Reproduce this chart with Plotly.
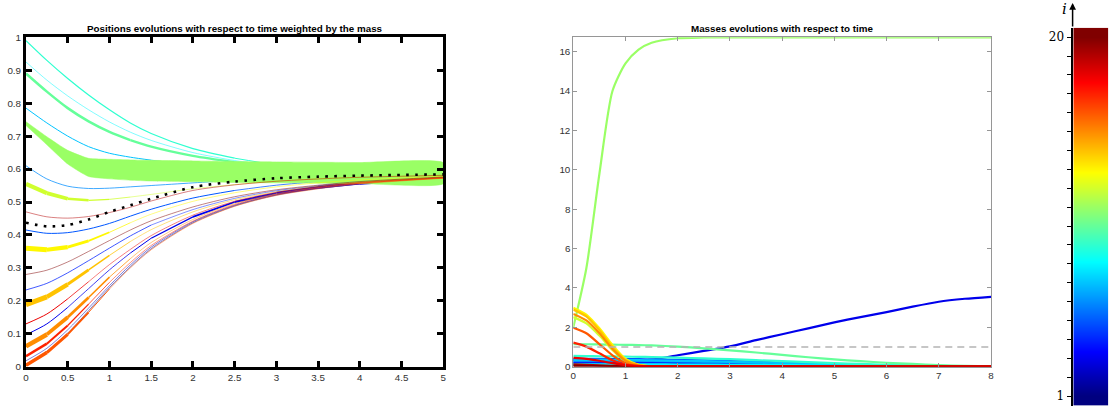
import plotly.graph_objects as go

W, H = 1110, 407

# ---------------- data ----------------
T_POS = [0, 0.25, 0.5, 0.75, 1, 1.25, 1.5, 2, 2.5, 3, 3.5, 4, 5]
T_MASS = [0, 0.25, 0.5, 0.75, 1, 1.25, 1.5, 2, 2.5, 3, 3.5, 4, 4.5, 5, 5.5, 6, 6.5, 7, 7.5, 8]
PARTICLE_IDX = list(range(1, 21))

pos_i1 = [0.008, 0.047, 0.102, 0.17, 0.24, 0.303, 0.358, 0.437, 0.488, 0.521, 0.541, 0.555, 0.572]
pos_i2 = [0.018, 0.056, 0.112, 0.178, 0.246, 0.309, 0.363, 0.44, 0.49, 0.522, 0.542, 0.556, 0.572]
pos_i3 = [0.097, 0.13, 0.18, 0.237, 0.294, 0.345, 0.39, 0.455, 0.5, 0.527, 0.545, 0.558, 0.574]
pos_i4 = [0.233, 0.253, 0.285, 0.322, 0.36, 0.397, 0.43, 0.477, 0.511, 0.534, 0.549, 0.561, 0.575]
pos_i5 = [0.415, 0.405, 0.407, 0.418, 0.435, 0.457, 0.478, 0.512, 0.535, 0.551, 0.562, 0.57, 0.579]
pos_i6 = [0.61, 0.57, 0.548, 0.541, 0.542, 0.546, 0.55, 0.558, 0.566, 0.572, 0.577, 0.58, 0.584]
pos_i7 = [0.785, 0.74, 0.7, 0.668, 0.648, 0.636, 0.627, 0.612, 0.603, 0.597, 0.593, 0.59, 0.587]
pos_i8 = [0.925, 0.87, 0.822, 0.78, 0.743, 0.712, 0.687, 0.65, 0.626, 0.609, 0.599, 0.592, 0.587]
pos_i9 = [0.99, 0.93, 0.875, 0.825, 0.78, 0.74, 0.708, 0.662, 0.633, 0.613, 0.601, 0.593, 0.587]
pos_i10 = [0.89, 0.835, 0.785, 0.745, 0.713, 0.688, 0.668, 0.64, 0.621, 0.607, 0.598, 0.592, 0.587]
pos_i11 = [0.738, 0.686, 0.636, 0.605, 0.6, 0.597, 0.595, 0.593, 0.591, 0.59, 0.589, 0.588, 0.5875]
pos_i12 = [0.555, 0.527, 0.51, 0.505, 0.508, 0.515, 0.523, 0.54, 0.553, 0.563, 0.57, 0.575, 0.581]
pos_i13 = [0.36, 0.355, 0.363, 0.382, 0.408, 0.437, 0.463, 0.502, 0.528, 0.546, 0.558, 0.567, 0.578]
pos_i14 = [0.188, 0.212, 0.25, 0.294, 0.338, 0.38, 0.416, 0.47, 0.507, 0.531, 0.548, 0.56, 0.575]
pos_i15 = [0.062, 0.098, 0.15, 0.21, 0.272, 0.328, 0.377, 0.447, 0.495, 0.525, 0.544, 0.557, 0.573]
pos_i16 = [0.004, 0.043, 0.098, 0.165, 0.236, 0.3, 0.355, 0.435, 0.487, 0.52, 0.54, 0.555, 0.572]
pos_i17 = [0.032, 0.07, 0.125, 0.19, 0.256, 0.316, 0.368, 0.442, 0.492, 0.523, 0.543, 0.557, 0.573]
pos_i18 = [0.13, 0.16, 0.206, 0.258, 0.31, 0.356, 0.398, 0.46, 0.502, 0.529, 0.546, 0.559, 0.574]
pos_i19 = [0.47, 0.455, 0.451, 0.456, 0.468, 0.484, 0.503, 0.535, 0.552, 0.563, 0.57, 0.575, 0.581]
pos_i20 = [0.28, 0.293, 0.318, 0.35, 0.383, 0.415, 0.443, 0.485, 0.516, 0.537, 0.551, 0.562, 0.576]
pos_mean = [0.437, 0.426, 0.43, 0.447, 0.47, 0.49, 0.51, 0.545, 0.562, 0.572, 0.577, 0.58, 0.584]

mass_i1 = [0.1, 0.1, 0.1, 0.1, 0.1, 0.1, 0.1, 0.09, 0.08, 0.07, 0.06, 0.05, 0.04, 0.03, 0.02, 0.015, 0.01, 0.006, 0.004, 0.002]
mass_i2 = [0.2, 0.2, 0.2, 0.2, 0.2, 0.2, 0.2, 0.19, 0.18, 0.16, 0.14, 0.12, 0.1, 0.08, 0.06, 0.04, 0.03, 0.02, 0.01, 0.005]
mass_i3 = [0.35, 0.34, 0.32, 0.3, 0.29, 0.3, 0.36, 0.58, 0.8, 1.03, 1.35, 1.65, 1.95, 2.25, 2.52, 2.77, 3.05, 3.3, 3.45, 3.55]
mass_i4 = [0.22, 0.22, 0.22, 0.22, 0.22, 0.22, 0.21, 0.2, 0.19, 0.17, 0.15, 0.12, 0.1, 0.08, 0.06, 0.04, 0.03, 0.02, 0.01, 0.005]
mass_i5 = [0.4, 0.4, 0.4, 0.39, 0.39, 0.38, 0.37, 0.35, 0.32, 0.29, 0.25, 0.21, 0.17, 0.13, 0.1, 0.07, 0.05, 0.03, 0.02, 0.01]
mass_i6 = [0.3, 0.3, 0.3, 0.3, 0.3, 0.29, 0.29, 0.27, 0.25, 0.23, 0.2, 0.17, 0.14, 0.11, 0.08, 0.06, 0.04, 0.02, 0.01, 0.005]
mass_i7 = [0.35, 0.35, 0.35, 0.34, 0.34, 0.33, 0.32, 0.3, 0.28, 0.25, 0.22, 0.18, 0.15, 0.12, 0.09, 0.07, 0.05, 0.03, 0.02, 0.01]
mass_i8 = [0.12, 0.12, 0.12, 0.12, 0.12, 0.12, 0.12, 0.11, 0.11, 0.1, 0.09, 0.08, 0.07, 0.06, 0.05, 0.04, 0.03, 0.02, 0.01, 0.01]
mass_i9 = [0.55, 0.54, 0.53, 0.52, 0.51, 0.5, 0.49, 0.46, 0.42, 0.38, 0.33, 0.28, 0.23, 0.18, 0.14, 0.1, 0.07, 0.04, 0.02, 0.01]
mass_i10 = [1.15, 1.14, 1.13, 1.12, 1.11, 1.1, 1.08, 1.02, 0.93, 0.83, 0.72, 0.6, 0.48, 0.37, 0.28, 0.2, 0.14, 0.08, 0.04, 0.02]
mass_i11 = [2.0, 5.0, 9.8, 14.0, 15.4, 16.1, 16.45, 16.68, 16.72, 16.73, 16.73, 16.73, 16.73, 16.73, 16.73, 16.73, 16.73, 16.73, 16.73, 16.73]
mass_i12 = [2.52, 2.2, 1.58, 0.85, 0.28, 0.06, 0.01, 0, 0, 0, 0, 0, 0, 0, 0, 0, 0, 0, 0, 0]
mass_i13 = [3.0, 2.65, 1.95, 1.1, 0.4, 0.1, 0.02, 0, 0, 0, 0, 0, 0, 0, 0, 0, 0, 0, 0, 0]
mass_i14 = [2.9, 2.55, 1.85, 1.0, 0.35, 0.08, 0.02, 0, 0, 0, 0, 0, 0, 0, 0, 0, 0, 0, 0, 0]
mass_i15 = [2.68, 2.35, 1.7, 0.9, 0.3, 0.07, 0.01, 0, 0, 0, 0, 0, 0, 0, 0, 0, 0, 0, 0, 0]
mass_i16 = [1.98, 1.7, 1.15, 0.58, 0.18, 0.04, 0.01, 0, 0, 0, 0, 0, 0, 0, 0, 0, 0, 0, 0, 0]
mass_i17 = [1.22, 1.02, 0.68, 0.33, 0.1, 0.02, 0, 0, 0, 0, 0, 0, 0, 0, 0, 0, 0, 0, 0, 0]
mass_i18 = [0.45, 0.4, 0.3, 0.18, 0.08, 0.03, 0.01, 0, 0, 0, 0, 0, 0, 0, 0, 0, 0, 0, 0, 0]
mass_i19 = [0.12, 0.1, 0.07, 0.04, 0.02, 0.01, 0, 0, 0, 0, 0, 0, 0, 0, 0, 0, 0, 0, 0, 0]
mass_i20 = [0.04, 0.035, 0.025, 0.015, 0.008, 0.004, 0.002, 0, 0, 0, 0, 0, 0, 0, 0, 0, 0, 0, 0, 0]
MEAN_MASS = 1.0

TITLE_LEFT = "Positions evolutions with respect to time weighted by the mass"
TITLE_RIGHT = "Masses evolutions with respect to time"
CBAR_LABEL = "i"

POS = {i: globals()["pos_i%d" % i] for i in PARTICLE_IDX}
MASS = {i: globals()["mass_i%d" % i] for i in PARTICLE_IDX}

# ---------------- style helpers ----------------
def jet(c):
    x = (c - 1) / 19.0
    cl = lambda v: max(0.0, min(1.0, v))
    r = cl(min(4 * x - 1.5, -4 * x + 4.5))
    g = cl(min(4 * x - 0.5, -4 * x + 3.5))
    b = cl(min(4 * x + 0.5, -4 * x + 2.5))
    return "rgb(%d,%d,%d)" % (round(r * 255), round(g * 255), round(b * 255))

JET_SCALE = [[0, "rgb(0,0,128)"], [0.125, "rgb(0,0,255)"], [0.375, "rgb(0,255,255)"],
             [0.625, "rgb(255,255,0)"], [0.875, "rgb(255,0,0)"], [1, "rgb(128,0,0)"]]

def width_px(m):
    return max(0.55, 2.2 * m ** 0.8)

FONT = "Liberation Sans, Arial, sans-serif"
SERIF = "DejaVu Serif, Liberation Serif, serif"

# layout geometry (pixels)
L_X0, L_X1 = 26, 443.3
R_X0, R_X1 = 573.3, 991
P_YTOP, P_YBOT = 37.3, 366.7
C_X0, C_X1 = 1073.3, 1108.3
C_YTOP, C_YBOT = 27.7, 405.5
Y_RANGE_R = 16.73

px_per_unit_left = (P_YBOT - P_YTOP) / 1.0

fig = go.Figure()

# ---------------- left panel ----------------
for c in PARTICLE_IDX:
    ys = POS[c]
    ms = [MASS[c][T_MASS.index(t)] for t in T_POS]
    ws = [width_px(m) for m in ms]
    col = jet(c)
    if c == 11:
        hw = [w / 2.0 / px_per_unit_left for w in ws]
        up = [y + h for y, h in zip(ys, hw)]
        lo = [y - h for y, h in zip(ys, hw)]
        fig.add_trace(go.Scatter(x=T_POS + T_POS[::-1], y=up + lo[::-1], mode="lines",
                                 fill="toself", fillcolor=col,
                                 line=dict(color=col, width=0.5, shape="spline", smoothing=0.5),
                                 xaxis="x", yaxis="y", hoverinfo="skip", showlegend=False))
        continue
    seg_w = [round((ws[k] + ws[k + 1]) / 2 * 4) / 4 for k in range(len(ws) - 1)]
    start = 0
    for k in range(1, len(seg_w) + 1):
        if k == len(seg_w) or seg_w[k] != seg_w[start]:
            fig.add_trace(go.Scatter(x=T_POS[start:k + 1], y=ys[start:k + 1], mode="lines",
                                     line=dict(color=col, width=seg_w[start], shape="spline", smoothing=0.8),
                                     xaxis="x", yaxis="y", hoverinfo="skip", showlegend=False))
            start = k

fig.add_trace(go.Scatter(x=T_POS, y=pos_mean, mode="lines",
                         line=dict(color="black", width=2.6, dash="2.6px,6.4px", shape="spline", smoothing=0.8),
                         xaxis="x", yaxis="y", hoverinfo="skip", showlegend=False))

# ---------------- right panel ----------------
RIGHT_ORDER = [c for c in PARTICLE_IDX if c != 18] + [18]
for c in RIGHT_ORDER:
    fig.add_trace(go.Scatter(x=T_MASS, y=MASS[c], mode="lines",
                             line=dict(color=jet(c), width=2.2, shape="spline", smoothing=0.7),
                             xaxis="x2", yaxis="y2", hoverinfo="skip", showlegend=False))
fig.add_trace(go.Scatter(x=[T_MASS[0], T_MASS[-1]], y=[MEAN_MASS, MEAN_MASS], mode="lines",
                         line=dict(color="rgb(180,180,180)", width=1.6, dash="7px,5px"),
                         xaxis="x2", yaxis="y2", hoverinfo="skip", showlegend=False))

# ---------------- colour bar ----------------
cb_y = [0.5] + PARTICLE_IDX + [20.5]
cb_z = [[PARTICLE_IDX[0]] * 2] + [[c, c] for c in PARTICLE_IDX] + [[PARTICLE_IDX[-1]] * 2]
fig.add_trace(go.Heatmap(x=[0, 1], y=cb_y, z=cb_z,
                         colorscale=JET_SCALE, zmin=1, zmax=20, zsmooth="best",
                         showscale=False, hoverinfo="skip", xaxis="x3", yaxis="y3"))

def dx(a, b):
    return [a / W, b / W]

def dy(top, bot):
    return [(H - bot) / H, (H - top) / H]

tickfont = dict(family=FONT, size=9.8, color="rgb(50,50,50)")

left_ax = dict(showline=True, linewidth=3, linecolor="black", mirror="ticks",
               ticks="inside", ticklen=6, tickwidth=2.5, tickcolor="black",
               showgrid=False, zeroline=False, tickfont=tickfont)
right_ax = dict(showline=True, linewidth=1, linecolor="rgb(150,150,150)", mirror="ticks",
                ticks="inside", ticklen=4, tickwidth=1, tickcolor="rgb(150,150,150)",
                showgrid=False, zeroline=False, tickfont=tickfont)

fig.update_layout(
    width=W, height=H, margin=dict(l=0, r=0, t=0, b=0, pad=0, autoexpand=False),
    paper_bgcolor="white", plot_bgcolor="white", showlegend=False,
    xaxis=dict(domain=dx(L_X0, L_X1), range=[0, 5], tickmode="linear", tick0=0, dtick=0.5,
               anchor="y", **left_ax),
    yaxis=dict(domain=dy(P_YTOP, P_YBOT), range=[0, 1], tickmode="linear", tick0=0, dtick=0.1,
               anchor="x", **left_ax),
    xaxis2=dict(domain=dx(R_X0, R_X1), range=[0, 8], tickmode="linear", tick0=0, dtick=1,
                anchor="y2", **right_ax),
    yaxis2=dict(domain=dy(P_YTOP, P_YBOT), range=[0, Y_RANGE_R], tickmode="linear", tick0=0, dtick=2,
                anchor="x2", **right_ax),
    xaxis3=dict(domain=dx(C_X0, C_X1), range=[-0.5, 1.5], visible=False, anchor="y3"),
    yaxis3=dict(domain=dy(C_YTOP, C_YBOT), range=[0.5, 20.5], anchor="x3", side="left",
                showline=True, linewidth=1.5, linecolor="black", ticks="outside", ticklen=5,
                tickwidth=1.3, tickcolor="black", showgrid=False, zeroline=False,
                tickmode="array", tickvals=PARTICLE_IDX,
                ticktext=[str(c) if c in (1, 20) else "" for c in PARTICLE_IDX],
                tickfont=dict(family=SERIF, size=12, color="black")),
    annotations=[
        dict(text="<b>%s</b>" % TITLE_LEFT, x=(L_X0 + L_X1) / 2 / W, y=(H - 29) / H,
             xref="paper", yref="paper", xanchor="center", yanchor="middle", showarrow=False,
             font=dict(family=FONT, size=9.8, color="black")),
        dict(text="<b>%s</b>" % TITLE_RIGHT, x=(R_X0 + R_X1) / 2 / W, y=(H - 29) / H,
             xref="paper", yref="paper", xanchor="center", yanchor="middle", showarrow=False,
             font=dict(family=FONT, size=9.8, color="black")),
        dict(text="", x=1072.6 / W, y=(H - 3) / H, xref="paper", yref="paper",
             showarrow=True, ax=0, ay=25, axref="pixel", ayref="pixel",
             arrowhead=2, arrowsize=0.9, arrowwidth=1.5, arrowcolor="black"),
        dict(text="<i>%s</i>" % CBAR_LABEL, x=1064 / W, y=(H - 9) / H, xref="paper", yref="paper",
             xanchor="center", yanchor="middle", showarrow=False,
             font=dict(family=SERIF, size=15, color="black")),
    ],
)

fig.write_html("out.html", config={"displayModeBar": False},
               post_script="document.body.style.margin='0px';document.body.style.padding='0px';")
